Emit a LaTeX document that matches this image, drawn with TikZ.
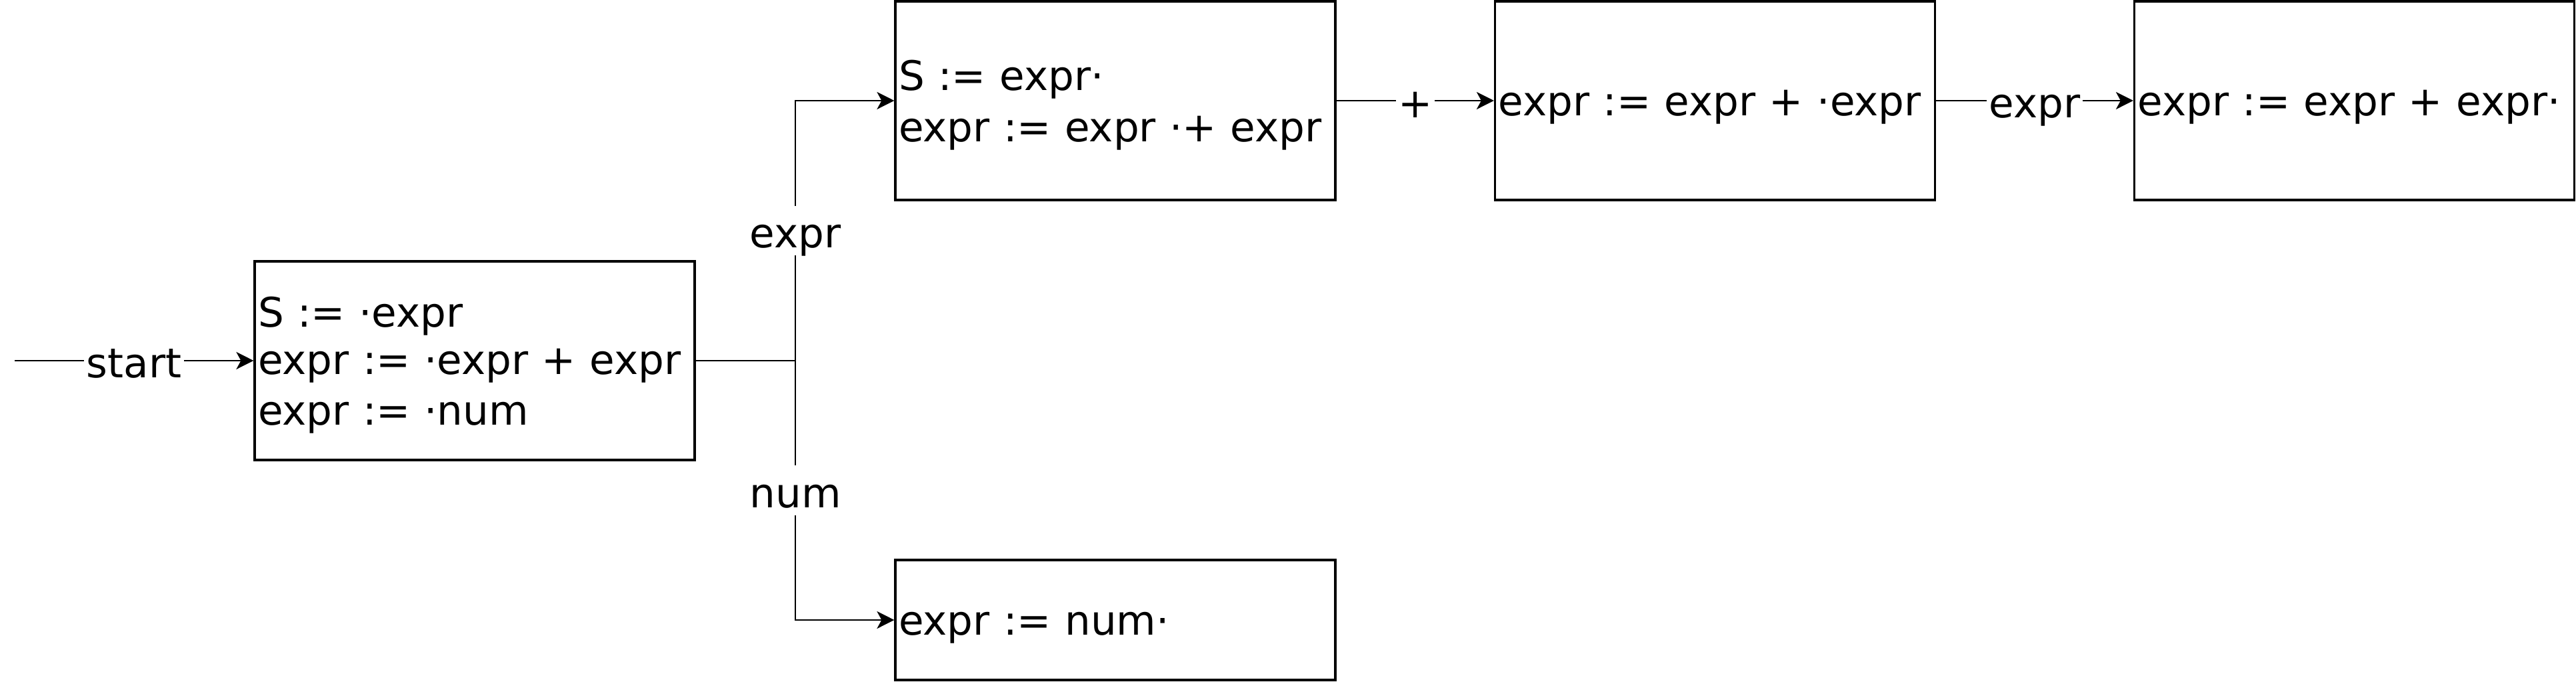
\documentclass[tikz,border=0pt]{standalone}
\usepackage{fontspec}
\setmainfont{DejaVu Sans}
\usetikzlibrary{arrows.meta}
\newcommand{\itemstrut}{\rule[-4pt]{0pt}{21pt}}
\begin{document}
\begin{tikzpicture}[line width=0.7pt,
  itemset/.style={draw,line width=0.9pt,minimum width=6.6cm,inner xsep=0.05cm,inner ysep=0pt,text width=6.5cm,align=left,
    execute at begin node=\itemstrut,execute at end node=\itemstrut},
  lbl/.style={fill=white,inner xsep=1pt,inner ysep=0pt,text height=18pt,text depth=3.2pt},
  >={Stealth[length=0.26cm,width=0.26cm,inset=0.07cm]},
  font=\fontsize{17.4}{20.2}\selectfont]
\useasboundingbox (0,0) rectangle (38.64,10.26);
\node[itemset,minimum height=2.98cm] (s0) at (7.12,4.85) {S := ·expr\\expr := ·expr + expr\\expr := ·num};
\node[itemset,minimum height=2.98cm] (s1) at (16.73,8.75) {S := expr·\\expr := expr ·+ expr};
\node[itemset,minimum height=2.98cm] (s2) at (25.725,8.75) {expr := expr + ·expr};
\node[itemset,minimum height=2.98cm] (s3) at (35.315,8.75) {expr := expr + expr·};
\node[itemset,minimum height=1.80cm] (s4) at (16.73,0.96) {expr := num·};
\coordinate (in) at (0.22,4.85);
\coordinate (fork) at (11.93,4.85);

\draw[->] (in) -- node[lbl] {start} (s0.west);
\draw[->] (s0.east) -- (fork) |- node[lbl,pos=0.25] {expr} (s1.west);
\draw[->] (s0.east) -- (fork) |- node[lbl,pos=0.25] {num} (s4.west);
\draw[->] (s1) -- node[lbl] {+} (s2);
\draw[->] (s2) -- node[lbl] {expr} (s3);
\end{tikzpicture}
\end{document}
